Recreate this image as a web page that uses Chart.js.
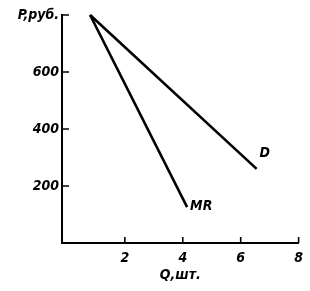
<!DOCTYPE html>
<html>
<head>
<meta charset="utf-8">
<script src="https://cdn.jsdelivr.net/npm/chart.js@4/dist/chart.umd.min.js"></script>
<style>
  html, body { margin: 0; padding: 0; background: #fff; }
  #wrap { width: 310px; height: 291px; }
</style>
</head>
<body>
<div id="wrap"><canvas id="myChart"></canvas></div>
<script>
'use strict';

// data
const demandQ = [0.8, 6.55];
const demandP = [800, 260];
const mrQ = [0.8, 4.15];
const mrP = [800, 126];
const xTicks = [0, 2, 4, 6, 8];
const yTicks = [0, 200, 400, 600, 800];
const yTopLabel = 'P,руб.';
const xTitle = 'Q,шт.';

const FONT = "'DejaVu Sans Condensed', 'Liberation Sans Narrow', 'DejaVu Sans', sans-serif";

function toPoints(xs, ys) {
    return xs.map((x, i) => ({ x: x, y: ys[i] }));
}

// little ticks pointing into the plot + line names
const extras = {
    id: 'extras',
    afterDraw(chart) {
        const ctx = chart.ctx;
        const x = chart.scales.x;
        const y = chart.scales.y;
        const area = chart.chartArea;
        ctx.save();
        ctx.strokeStyle = '#000';
        ctx.lineWidth = 1.6;
        ctx.beginPath();
        xTicks.forEach(v => {
            if (v === 0) return;
            const px = x.getPixelForValue(v);
            ctx.moveTo(px, area.bottom);
            ctx.lineTo(px, area.bottom - 6);
        });
        yTicks.forEach(v => {
            if (v === 0) return;
            const py = y.getPixelForValue(v);
            ctx.moveTo(area.left, py);
            ctx.lineTo(area.left + 7, py);
        });
        ctx.stroke();

        ctx.fillStyle = '#000';
        ctx.font = 'italic bold 14px ' + FONT;
        ctx.textBaseline = 'middle';
        ctx.textAlign = 'left';
        ctx.fillText('D', x.getPixelForValue(demandQ[1]) + 3, y.getPixelForValue(demandP[1]) - 16);
        ctx.fillText('MR', x.getPixelForValue(mrQ[1]) + 3, y.getPixelForValue(mrP[1]) - 1);
        ctx.restore();
    }
};

let config = {
    type: 'scatter',
    data: {
        datasets: [
            {
                label: 'D',
                data: toPoints(demandQ, demandP),
                showLine: true,
                borderColor: '#000',
                borderWidth: 2.6,
                pointRadius: 0
            },
            {
                label: 'MR',
                data: toPoints(mrQ, mrP),
                showLine: true,
                borderColor: '#000',
                borderWidth: 2.6,
                pointRadius: 0
            }
        ]
    },
    options: {
        responsive: true,
        maintainAspectRatio: false,
        animation: false,
        clip: false,
        layout: { padding: { top: 15, right: 10, left: 0, bottom: 0 } },
        plugins: {
            legend: { display: false },
            tooltip: { enabled: false }
        },
        scales: {
            x: {
                type: 'linear',
                min: -0.17,
                max: 8,
                afterBuildTicks: s => { s.ticks = xTicks.map(v => ({ value: v })); },
                afterFit: s => { s.height = 48; },
                grid: { display: false, drawTicks: false },
                border: { display: true, color: '#000', width: 2 },
                ticks: {
                    padding: 7,
                    color: '#000',
                    font: { family: FONT, size: 14, style: 'italic', weight: 'bold' },
                    callback: v => (v === 0 ? '' : v)
                },
                title: {
                    display: true,
                    text: xTitle,
                    color: '#000',
                    padding: { top: 0, bottom: 7 },
                    font: { family: FONT, size: 14, style: 'italic', weight: 'bold' }
                }
            },
            y: {
                type: 'linear',
                min: 0,
                max: 800,
                afterBuildTicks: s => { s.ticks = yTicks.map(v => ({ value: v })); },
                afterFit: s => { s.width = 62; },
                grid: { display: false, drawTicks: false },
                border: { display: true, color: '#000', width: 2 },
                ticks: {
                    padding: 3,
                    color: '#000',
                    font: { family: FONT, size: 14, style: 'italic', weight: 'bold' },
                    callback: v => (v === 0 ? '' : (v === 800 ? yTopLabel : v))
                }
            }
        }
    },
    plugins: [extras]
};

const ctx = document.getElementById('myChart').getContext('2d');
const myChart = new Chart(ctx, config);
</script>
</body>
</html>
